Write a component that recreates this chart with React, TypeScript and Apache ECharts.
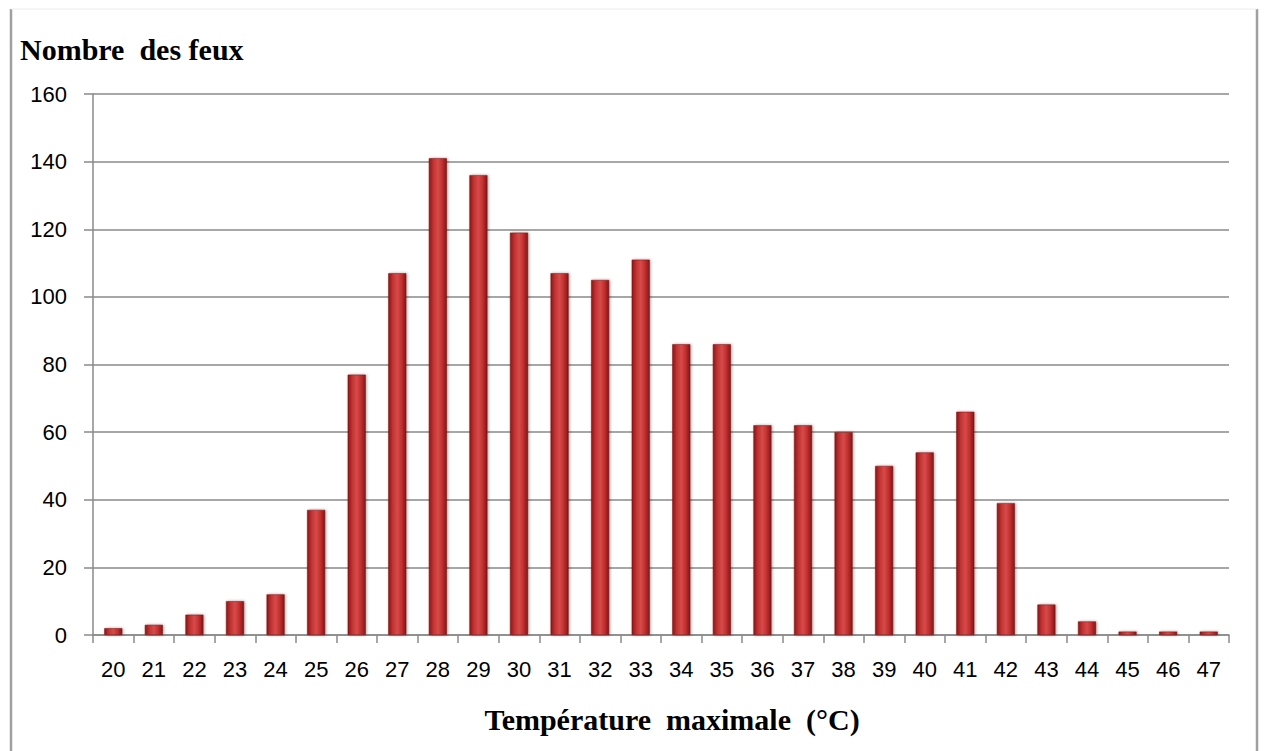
import React, { useEffect, useRef } from "react";
import * as echarts from "echarts";

const categories = ["20","21","22","23","24","25","26","27","28","29","30","31","32","33","34","35","36","37","38","39","40","41","42","43","44","45","46","47"];
const fireCounts = [2,3,6,10,12,37,77,107,141,136,119,107,105,111,86,86,62,62,60,50,54,66,39,9,4,1,1,1];
const yTicks = { min: 0, max: 160, interval: 20 };
const yTitle = "Nombre  des feux";
const xTitle = "Température  maximale  (°C)";

export default function App() {
  const ref = useRef<HTMLDivElement>(null);
  useEffect(() => {
    if (!ref.current) return;
    const chart = echarts.init(ref.current, undefined, { renderer: "svg" });
    const barColor = new echarts.graphic.LinearGradient(0, 0, 1, 0, [
      { offset: 0, color: "#8a1717" },
      { offset: 0.25, color: "#c23434" },
      { offset: 0.5, color: "#d84a4a" },
      { offset: 0.75, color: "#c02f2f" },
      { offset: 1, color: "#861515" },
    ]);
    chart.setOption({
      animation: false,
      backgroundColor: "#ffffff",
      grid: { left: 93, right: 35, top: 94, bottom: 116 },
      xAxis: {
        type: "category",
        data: categories,
        axisLine: { lineStyle: { color: "#8a8a8a", width: 1.5 } },
        axisTick: { show: true, length: 8, alignWithLabel: false, lineStyle: { color: "#8a8a8a", width: 1.5 } },
        axisLabel: { color: "#000", fontFamily: "Liberation Sans", fontSize: 22, margin: 23 },
      },
      yAxis: {
        type: "value",
        min: yTicks.min,
        max: yTicks.max,
        interval: yTicks.interval,
        axisLine: { show: true, lineStyle: { color: "#8a8a8a", width: 1.5 } },
        axisTick: { show: true, length: 9, lineStyle: { color: "#8a8a8a", width: 1.5 } },
        axisLabel: { color: "#000", fontFamily: "Liberation Sans", fontSize: 22, margin: 26 },
        splitLine: { show: true, lineStyle: { color: "#8a8a8a", width: 1.5 } },
      },
      series: [
        {
          type: "bar",
          data: fireCounts,
          barWidth: 18,
          itemStyle: {
            color: barColor,
            borderColor: "#7a1313",
            borderWidth: 0.5,
            shadowColor: "rgba(0,0,0,0.35)",
            shadowBlur: 3,
            shadowOffsetX: 1,
            shadowOffsetY: 0,
          },
        },
      ],
      graphic: [
        { type: "line", shape: { x1: 11, y1: 9, x2: 11, y2: 751 }, style: { stroke: "#a0a0a0", lineWidth: 2.5 } },
        { type: "line", shape: { x1: 1257, y1: 9, x2: 1257, y2: 751 }, style: { stroke: "#a0a0a0", lineWidth: 2.5 } },
        { type: "line", shape: { x1: 11, y1: 9, x2: 1257, y2: 9 }, style: { stroke: "#ececec", lineWidth: 1 } },
        {
          type: "text",
          left: 20,
          top: 34,
          style: { text: yTitle, font: "bold 30px 'Liberation Serif'", fill: "#000" },
        },
        {
          type: "text",
          x: 672,
          y: 719,
          style: { text: xTitle, font: "bold 30px 'Liberation Serif'", fill: "#000", align: "center", verticalAlign: "middle" },
        },
      ],
    });
    return () => chart.dispose();
  }, []);
  return <div ref={ref} style={{ position: "fixed", left: 0, top: 0, width: 1264, height: 751 }} />;
}
